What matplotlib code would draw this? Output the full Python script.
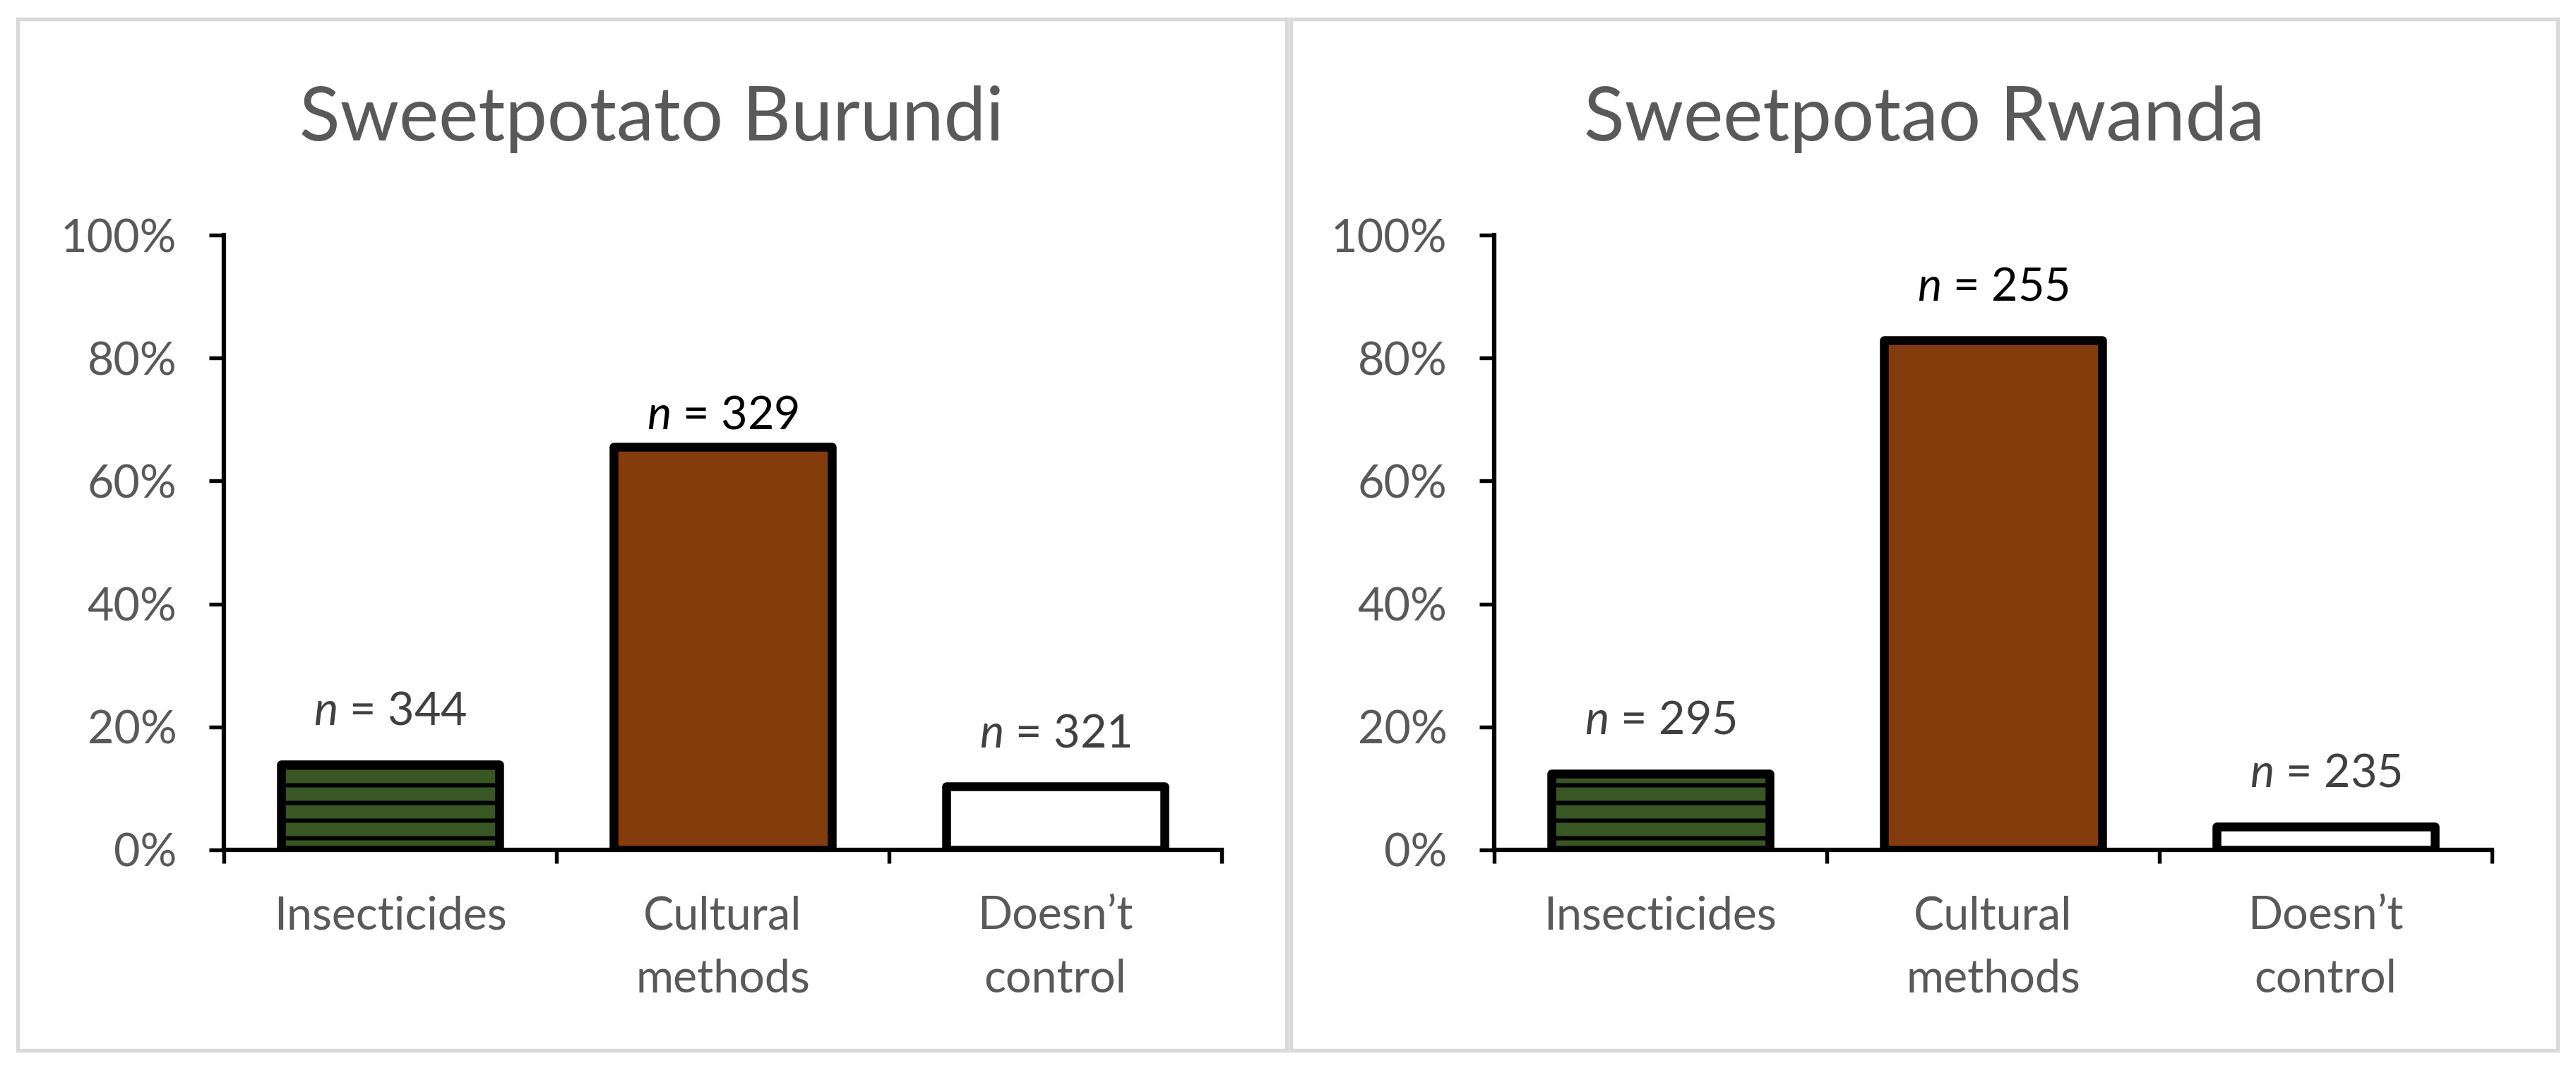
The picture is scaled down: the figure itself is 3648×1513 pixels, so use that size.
import matplotlib.pyplot as plt
from matplotlib.patches import Rectangle

plt.rcParams['font.family'] = ['Lato', 'DejaVu Sans']
plt.rcParams['mathtext.fontset'] = 'custom'
plt.rcParams['mathtext.it'] = 'Lato:italic'
plt.rcParams['mathtext.rm'] = 'Lato'
plt.rcParams['hatch.linewidth'] = 2.9

# data
categories = ['Insecticides', 'Cultural\nmethods', 'Doesn\u2019t\ncontrol']
titles = ['Sweetpotato Burundi', 'Sweetpotao Rwanda']
burundi = [0.139, 0.655, 0.103]
rwanda = [0.124, 0.829, 0.038]
burundi_n = [344, 329, 321]
rwanda_n = [295, 255, 235]
yticks = [0, 0.2, 0.4, 0.6, 0.8, 1.0]
ytick_labels = ['0%', '20%', '40%', '60%', '80%', '100%']

colors = ['#385723', '#843C0C', 'white']
hatches = ['-', None, None]
label_colors = [['#404040', 'black', '#404040'], ['#404040', 'black', '#404040']]
label_offset = [[27, 12.5, 27], [27, 27, 27]]  # points above bar
grey = '#595959'

W, H = 3648, 1513
dpi = 150
fig = plt.figure(figsize=(W / dpi, H / dpi), dpi=dpi)

# panel frames
for x0, x1 in [(25, 1822), (1828, 3622)]:
    fig.patches.append(Rectangle((x0 / W, 1 - 1488 / H), (x1 - x0) / W, (1488 - 27) / H,
                                 transform=fig.transFigure, fill=False,
                                 edgecolor='#D9D9D9', linewidth=2.6))

ax_left = [317, 2116]
ax_w = 1413
y0, y100 = 1204, 333
title_x = [923, 2725]

for i, (vals, ns) in enumerate([(burundi, burundi_n), (rwanda, rwanda_n)]):
    ax = fig.add_axes([ax_left[i] / W, 1 - y0 / H, ax_w / W, (y0 - y100) / H])
    x = range(len(categories))
    bars = ax.bar(x, vals, width=0.655, color=colors, edgecolor='black',
                  linewidth=6, joinstyle='round', zorder=3)
    for b, h in zip(bars, hatches):
        if h:
            b.set_hatch(h)
    for k, (v, n) in enumerate(zip(vals, ns)):
        ax.annotate(r'$\mathit{n}$ = ' + str(n), (k, v), xytext=(0, label_offset[i][k]),
                    textcoords='offset points', ha='center', va='baseline',
                    fontsize=31, color=label_colors[i][k], zorder=4)
    ax.set_xlim(-0.5, 2.5)
    ax.set_ylim(0, 1)
    ax.set_yticks(yticks)
    ax.set_yticklabels(ytick_labels)
    ax.set_xticks([-0.5, 0.5, 1.5, 2.5])
    ax.set_xticklabels([])
    ax.set_xticks(list(x), minor=True)
    ax.set_xticklabels(categories, minor=True, linespacing=1.62)
    ax.tick_params(axis='x', which='major', direction='out', length=9, width=2.6, color='black')
    ax.tick_params(axis='x', which='minor', length=0, pad=31, labelsize=31, labelcolor=grey)
    ax.tick_params(axis='y', direction='out', length=10, width=2.6, color='black',
                   pad=22, labelsize=31, labelcolor=grey)
    for s in ['top', 'right']:
        ax.spines[s].set_visible(False)
    for s in ['left', 'bottom']:
        ax.spines[s].set_linewidth(3)
        ax.spines[s].set_zorder(5)
    fig.text(title_x[i] / W, 1 - 199 / H, titles[i], ha='center', va='baseline',
             fontsize=51, color=grey)

fig.savefig('out.png', dpi=dpi)
